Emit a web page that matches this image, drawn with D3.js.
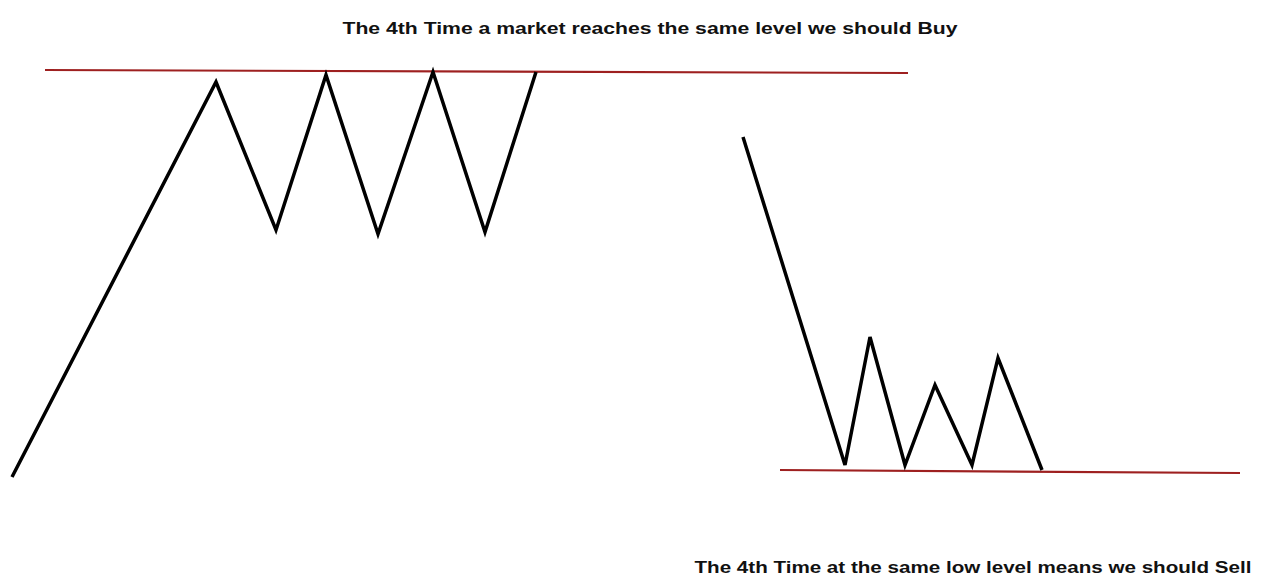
<!DOCTYPE html>
<html>
<head>
<meta charset="utf-8">
<script src="https://cdn.jsdelivr.net/npm/d3@7"></script>
<style>
  body { margin:0; background:#fff; }
  svg { display:block; }
</style>
</head>
<body>
<div id="chart"></div>
<script>
// time / price values
let buyTime   = [1.2, 21.6, 27.6, 32.6, 37.8, 43.3, 48.5, 53.6];
let buyPrice  = [10.0, 49.5, 34.7, 50.2, 34.3, 50.5, 34.5, 50.5];
let sellTime  = [74.3, 84.5, 87.0, 90.5, 93.5, 97.2, 99.8, 104.2];
let sellPrice = [44.0, 11.2, 24.0, 11.2, 19.2, 11.2, 21.9, 10.7];
let resistTime  = [4.5, 90.8];
let resistPrice = [50.7, 50.4];
let supportTime  = [78.0, 124.0];
let supportPrice = [10.7, 10.4];
let titleTop = "The 4th Time a market reaches the same level we should Buy";
let titleBottom = "The 4th Time at the same low level means we should Sell";

var svgwidth = 1266, svgheight = 577;
var svg = d3.select("#chart").append("svg")
  .attr("width", svgwidth)
  .attr("height", svgheight);

var xScale = d3.scaleLinear().domain([0, 126.6]).range([0, svgwidth]);
var yScale = d3.scaleLinear().domain([0, 57.7]).range([svgheight, 0]);

var line = d3.line()
  .x(d => xScale(d[0]))
  .y(d => yScale(d[1]));

// level lines
[d3.zip(resistTime, resistPrice), d3.zip(supportTime, supportPrice)].forEach(function(pts){
  svg.append("path")
    .datum(pts)
    .attr("d", line)
    .attr("fill", "none")
    .attr("stroke", "#9e2020")
    .attr("stroke-width", 2.2);
});

// price paths
[d3.zip(buyTime, buyPrice), d3.zip(sellTime, sellPrice)].forEach(function(pts){
  svg.append("path")
    .datum(pts)
    .attr("d", line)
    .attr("fill", "none")
    .attr("stroke", "#000")
    .attr("stroke-width", 3.5)
    .attr("stroke-linejoin", "miter");
});

// labels
svg.append("text")
  .attr("x", 650).attr("y", 34)
  .attr("text-anchor", "middle")
  .attr("font-family", "Liberation Sans, Arial, sans-serif")
  .attr("font-weight", "bold")
  .attr("font-size", "16px")
  .attr("textLength", 615)
  .attr("lengthAdjust", "spacingAndGlyphs")
  .attr("fill", "#111")
  .text(titleTop);

svg.append("text")
  .attr("x", 973).attr("y", 573)
  .attr("text-anchor", "middle")
  .attr("font-family", "Liberation Sans, Arial, sans-serif")
  .attr("font-weight", "bold")
  .attr("font-size", "17px")
  .attr("textLength", 557)
  .attr("lengthAdjust", "spacingAndGlyphs")
  .attr("fill", "#111")
  .text(titleBottom);
</script>
</body>
</html>
